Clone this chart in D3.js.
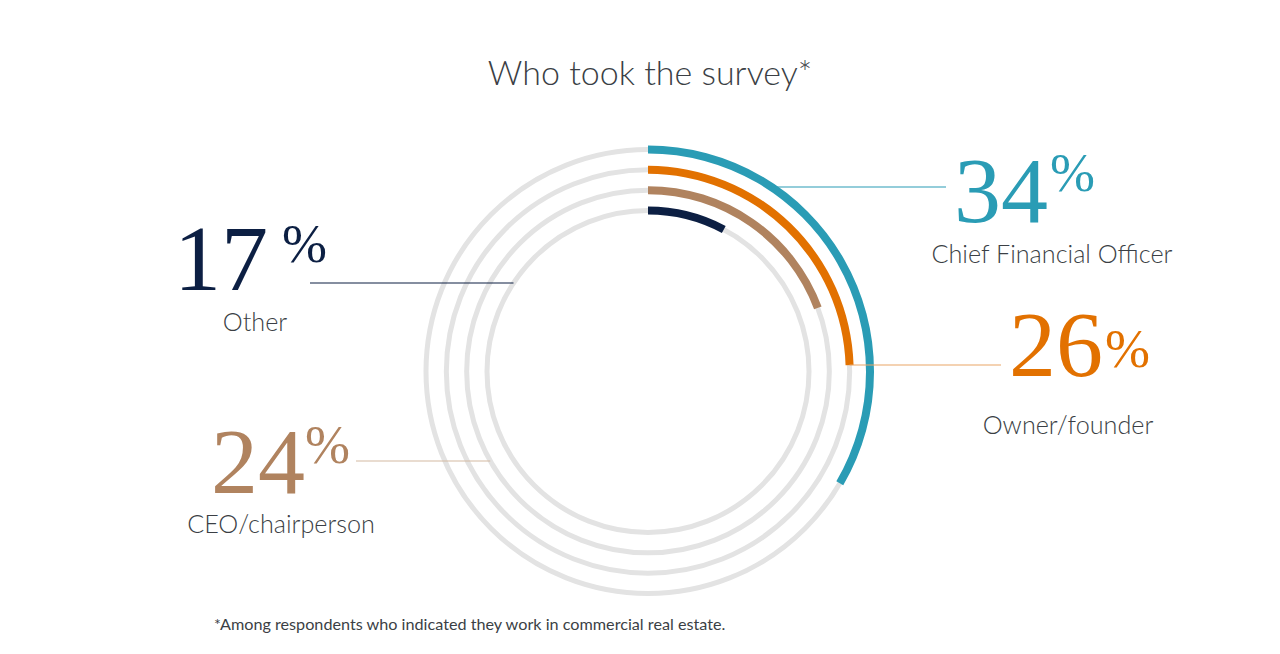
<!DOCTYPE html>
<html>
<head>
<meta charset="utf-8">
<script src="https://cdn.jsdelivr.net/npm/d3@7"></script>
<style>
    body { margin: 0; background: #fff; }
    .num { font-family: "Liberation Serif", "DejaVu Serif", serif; }
    .lbl { font-family: Lato, "Open Sans", sans-serif; font-weight: 300; fill: #3b3f45; }
</style>
</head>
<body>
<div id="chart"></div>
<script>
// Survey respondents by role, outer ring to inner ring
const roles = ["Chief Financial Officer", "Owner/founder", "CEO/chairperson", "Other"];
const shares = [34, 26, 24, 17];
// arc extent as it is drawn in the picture (percent of a full turn)
const drawnShares = [33.4, 24.5, 19.3, 7.8];
const colors = ["#2a9cb5", "#e27100", "#b0835f", "#0c1f43"];
const leaderColors = ["#2a9cb5", "#eaa566", "#d3b9a2", "#0c1f43"];

const title = "Who took the survey*";
const footnote = "*Among respondents who indicated they work in commercial real estate.";

const width = 1280, height = 654;
const cx = 648, cy = 371.5;

// label layout per ring: side, leader y, leader outer x, number x / baseline, % baseline, label x / baseline
const layout = [
    { side: 1,  ly: 187, lx: 946,  nx: 954,  ny: 222, py: 191, tx: 1052, ty: 263 },
    { side: 1,  ly: 365, lx: 1001, nx: 1009, ny: 376, py: 367, tx: 1068, ty: 434 },
    { side: -1, ly: 461, lx: 356,  nx: 305,  ny: 493, py: 463, tx: 281,  ty: 533 },
    { side: -1, ly: 283, lx: 310,  nx: 268,  ny: 290, py: 262, tx: 255,  ty: 331 }
];

const svg = d3.select("#chart").append("svg")
    .attr("width", width)
    .attr("height", height);

// one ring per role, outer to inner
const ring = d3.scalePoint()
    .domain(roles)
    .range([222, 161]);

const radius = d => ring(d);
const angle = d3.scaleLinear().domain([0, 100]).range([0, 2 * Math.PI]);

// Title
svg.append("text")
    .attr("class", "lbl")
    .attr("x", 650)
    .attr("y", 85)
    .attr("text-anchor", "middle")
    .attr("font-size", 34)
    .text(title);

const g = svg.append("g")
    .attr("transform", "translate(" + cx + "," + cy + ")");

// grey tracks
g.selectAll(".track")
    .data(roles)
    .enter().append("circle")
    .attr("class", "track")
    .attr("r", d => radius(d))
    .attr("fill", "none")
    .attr("stroke", "#e3e3e3")
    .attr("stroke-width", 5);

// coloured arcs
const arc = d3.arc()
    .innerRadius((d, i) => radius(roles[i]) - 4)
    .outerRadius((d, i) => radius(roles[i]) + 4)
    .startAngle(0)
    .endAngle(d => angle(d));

g.selectAll(".bar")
    .data(drawnShares)
    .enter().append("path")
    .attr("class", "bar")
    .attr("fill", (d, i) => colors[i])
    .attr("d", (d, i) => arc(d, i));

// leader lines, meeting the ring where it crosses the line height
svg.selectAll(".leader")
    .data(roles)
    .enter().append("line")
    .attr("class", "leader")
    .attr("x1", (d, i) => {
        let r = radius(d), dy = layout[i].ly - cy;
        return cx + layout[i].side * Math.sqrt(r * r - dy * dy);
    })
    .attr("x2", (d, i) => layout[i].lx)
    .attr("y1", (d, i) => layout[i].ly)
    .attr("y2", (d, i) => layout[i].ly)
    .attr("stroke", (d, i) => leaderColors[i])
    .attr("stroke-width", 1.2);

// big numbers
svg.selectAll(".num-value")
    .data(shares)
    .enter().append("text")
    .attr("class", "num num-value")
    .attr("x", (d, i) => layout[i].nx)
    .attr("y", (d, i) => layout[i].ny)
    .attr("text-anchor", (d, i) => layout[i].side > 0 ? "start" : "end")
    .attr("font-size", 94)
    .attr("fill", (d, i) => colors[i])
    .text(d => d);

// percent signs
svg.selectAll(".num-pct")
    .data(shares)
    .enter().append("text")
    .attr("class", "num num-pct")
    .attr("x", (d, i) => layout[i].side > 0 ? layout[i].nx + 96 : layout[i].nx + (i === 3 ? 14 : 0))
    .attr("y", (d, i) => layout[i].py)
    .attr("font-size", 54)
    .attr("fill", (d, i) => colors[i])
    .text("%");

// role labels
svg.selectAll(".role")
    .data(roles)
    .enter().append("text")
    .attr("class", "lbl role")
    .attr("x", (d, i) => layout[i].tx)
    .attr("y", (d, i) => layout[i].ty)
    .attr("text-anchor", "middle")
    .attr("font-size", 25.2)
    .text(d => d);

// footnote
svg.append("text")
    .attr("class", "lbl")
    .attr("x", 214)
    .attr("y", 630)
    .attr("font-size", 16.2)
    .style("font-weight", 400)
    .text(footnote);
</script>
</body>
</html>
